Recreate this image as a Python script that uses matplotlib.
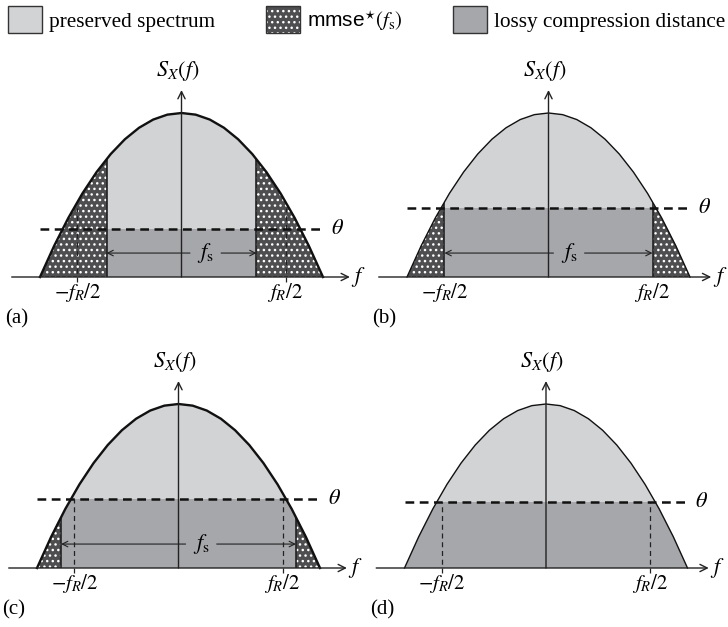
import numpy as np
import matplotlib
matplotlib.use("Agg")
import matplotlib.pyplot as plt
from matplotlib.patches import Patch

plt.rcParams['font.family'] = 'Liberation Serif'
plt.rcParams['mathtext.fontset'] = 'stix'
plt.rcParams['hatch.linewidth'] = 1.0

# spectrum S_X(f) (normalised band -1..1, peak 1)
freq = [-1.0, -0.9, -0.8, -0.7, -0.6, -0.5, -0.4, -0.3, -0.2, -0.1, 0.0,
        0.1, 0.2, 0.3, 0.4, 0.5, 0.6, 0.7, 0.8, 0.9, 1.0]
spectrum = [0.0, 0.19, 0.36, 0.51, 0.64, 0.75, 0.84, 0.91, 0.96, 0.99, 1.0,
            0.99, 0.96, 0.91, 0.84, 0.75, 0.64, 0.51, 0.36, 0.19, 0.0]

panels = ['(a)', '(b)', '(c)', '(d)']
theta = [0.29, 0.42, 0.42, 0.40]          # water level
fs_half = [0.53, 0.735, 0.83, None]       # half sampling rate
fR_half = 0.735                           # half of f_R
fR_top = [0.42, None, 0.42, 0.40]         # top of dashed f_R/2 markers
fs_text = [0.17, 0.145, 0.16, None]       # where the f_s label sits
curve_lw = [1.7, 1.0, 1.7, 1.0]
f_axis_end = [1.19, 1.15, 1.19, 1.15]

LIGHT = '#d2d3d5'
LOSSY = '#a6a7aa'
MMSE = '#4e4e50'

W, H = 728, 627
fig = plt.figure(figsize=(W / 100, H / 100), dpi=100)

sx, sy = 141.5, 164.0
origins = [(181.5, 277), (548.5, 277), (178.5, 568), (546, 568)]
x0, x1, y0, y1 = -1.28, 1.29, -0.33, 1.33


def make_axes(ox, oy):
    left = ox + x0 * sx
    top = oy - y1 * sy
    ax = fig.add_axes([left / W, 1 - (top + (y1 - y0) * sy) / H,
                       (x1 - x0) * sx / W, (y1 - y0) * sy / H])
    ax.set_xlim(x0, x1)
    ax.set_ylim(y0, y1)
    ax.set_axis_off()
    return ax


for i in range(4):
    ax = make_axes(*origins[i])
    th = theta[i]

    poly = ax.fill(freq, spectrum, color=LIGHT, lw=0, zorder=1)[0]

    if fs_half[i] is None:
        dark = ax.fill_between([-1.0, 1.0], 0, th, color=LOSSY, lw=0, zorder=2)
        dark.set_clip_path(poly)
    else:
        fs = fs_half[i]
        dark = ax.fill_between([-fs, fs], 0, th, color=LOSSY, lw=0, zorder=2)
        dark.set_clip_path(poly)
        for a, b in [(-1.0, -fs), (fs, 1.0)]:
            dots = ax.fill_between([a, b], 0, 1.1, facecolor=MMSE,
                                   edgecolor='white', hatch='...', lw=0, zorder=2)
            dots.set_clip_path(poly)
        edges = ax.vlines([-fs, fs], 0, 1.1, color='#222222', lw=1.2, zorder=4)
        edges.set_clip_path(poly)

        # f_s double arrow
        c = fs_text[i]
        ya = 0.146
        ax.text(c, ya, r'$f_{\rm s}$', fontsize=16, ha='center', va='center', zorder=6)
        for tail, head in [(c - 0.11, -fs), (c + 0.11, fs)]:
            ax.annotate('', xy=(head, ya), xytext=(tail, ya),
                        arrowprops=dict(arrowstyle='->', lw=0.8, color='#222222',
                                        shrinkA=0, shrinkB=0, mutation_scale=10),
                        zorder=6)

    ax.plot(freq, spectrum, color='#111111', lw=curve_lw[i], zorder=5,
            solid_joinstyle='round')

    # dashed f_R/2 markers
    if fR_top[i] is not None:
        ax.vlines([-fR_half, fR_half], -0.03, fR_top[i], color='#222222', lw=0.9,
                  linestyles=(0, (4, 3)), zorder=4)

    # water level
    ax.plot([-1.0, 1.0], [th, th], color='#111111', lw=1.8,
            linestyle=(0, (3.5, 2.2)), zorder=5)
    ax.text(1.10, th, r'$\theta$', fontsize=16, ha='center', va='center')

    # axes with arrow heads
    ax.annotate('', xy=(f_axis_end[i], 0), xytext=(-1.2, 0),
                arrowprops=dict(arrowstyle='->', lw=1.0, color='#222222',
                                shrinkA=0, shrinkB=0, mutation_scale=13), zorder=6)
    ax.annotate('', xy=(0, 1.14), xytext=(0, 0),
                arrowprops=dict(arrowstyle='->', lw=1.0, color='#222222',
                                shrinkA=0, shrinkB=0, mutation_scale=13), zorder=6)
    ax.text(f_axis_end[i] + 0.01, 0.0, r'$f$', fontsize=16, ha='left', va='center')
    ax.text(-0.03, 1.256, r'$S_X(f)$', fontsize=16, ha='center', va='center')

    ax.text(-fR_half, -0.095, r'$-f_R/2$', fontsize=15, ha='center', va='center')
    ax.text(fR_half, -0.095, r'$f_R/2$', fontsize=15, ha='center', va='center')
    ax.text(x0 + 0.035, -0.256, panels[i], fontsize=15, ha='left', va='center')

# legend across the top
h_light = Patch(facecolor=LIGHT, edgecolor='#333333', lw=1.0)
h_mmse = (Patch(facecolor=MMSE, edgecolor='white', hatch='...', lw=0),
          Patch(facecolor='none', edgecolor='#333333', lw=1.0))
h_lossy = Patch(facecolor=LOSSY, edgecolor='#333333', lw=1.0)
leg = fig.legend([h_light, h_mmse, h_lossy],
                 ['preserved spectrum', r'mmse$^{\star}(f_{\rm s})$',
                  'lossy compression distance'],
                 loc='upper left', bbox_to_anchor=(8 / W, 1 - 6 / H), ncol=3,
                 frameon=False, fontsize=15.3, handlelength=1.6, handleheight=1.6,
                 handletextpad=0.35, columnspacing=2.36, borderpad=0, borderaxespad=0)
leg.get_texts()[1].set_family('Liberation Sans')
leg.get_texts()[1].set_fontsize(15)

fig.savefig('out.png', dpi=100)
